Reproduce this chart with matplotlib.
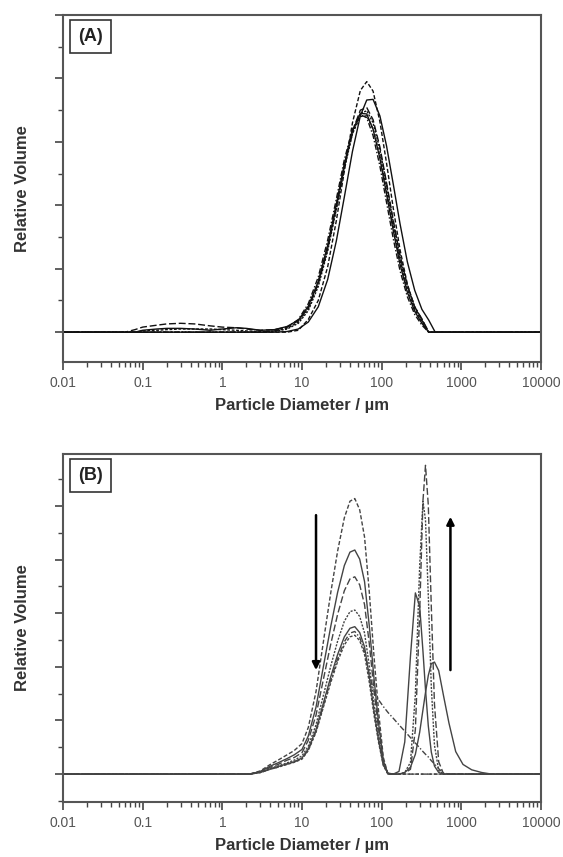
import numpy as np
import matplotlib
matplotlib.use('Agg')
import matplotlib.pyplot as plt
from matplotlib.ticker import FixedLocator, LogLocator, MultipleLocator, NullFormatter

plt.rcParams['font.family'] = ['Liberation Sans', 'DejaVu Sans']

# x ticks shared by both panels
x_ticks = [0.01, 0.1, 1, 10, 100, 1000, 10000]
x_tick_labels = ['0.01', '0.1', '1', '10', '100', '1000', '10000']

# ---- panel (A): particle diameter grid (um) and relative volume curves
xA = [0.01, 0.06, 0.08, 0.1, 0.15, 0.2, 0.3, 0.45, 0.7, 1.0, 1.5, 2.0, 3.0, 4.5, 6.5,
      9, 12, 16, 21, 27, 34, 43, 54, 65, 78, 95, 115, 140, 170, 210, 260, 320, 390, 470, 10000]

a1 = [0, 0, 0, 0, 0, 0, 0, 0, 0, 0, 0, 0, 0, 0, 0,
      0.03, 0.20, 0.50, 1.03, 1.76, 2.54, 3.30, 3.81, 3.95, 3.80, 3.32, 2.67, 1.95, 1.30, 0.76, 0.39, 0.19, 0, 0, 0]
a2 = [0, 0, 0, 0, 0, 0, 0, 0, 0, 0, 0, 0, 0, 0, 0.01,
      0.05, 0.16, 0.40, 0.83, 1.44, 2.13, 2.85, 3.41, 3.66, 3.67, 3.41, 2.94, 2.33, 1.71, 1.11, 0.66, 0.36, 0.19, 0, 0]
a3 = [0, 0, 0.04, 0.08, 0.11, 0.13, 0.14, 0.13, 0.10, 0.08, 0.07, 0.05, 0.03, 0.04, 0.08,
      0.18, 0.38, 0.76, 1.31, 1.96, 2.61, 3.17, 3.50, 3.54, 3.35, 2.92, 2.36, 1.76, 1.21, 0.74, 0.40, 0.21, 0, 0, 0]
a4 = [0, 0, 0, 0, 0, 0, 0, 0, 0, 0, 0, 0, 0, 0.01, 0.05,
      0.14, 0.34, 0.72, 1.28, 1.94, 2.57, 3.13, 3.45, 3.49, 3.30, 2.88, 2.33, 1.73, 1.19, 0.73, 0.40, 0.20, 0, 0, 0]
a5 = [0, 0, 0, 0.03, 0.05, 0.06, 0.06, 0.05, 0.03, 0.05, 0.07, 0.06, 0.03, 0.04, 0.09,
      0.19, 0.41, 0.80, 1.37, 2.02, 2.65, 3.17, 3.45, 3.44, 3.20, 2.74, 2.18, 1.60, 1.07, 0.63, 0.33, 0.14, 0, 0, 0]
a6 = [0, 0, 0, 0, 0, 0, 0, 0, 0, 0, 0, 0, 0, 0.02, 0.08,
      0.20, 0.45, 0.87, 1.45, 2.10, 2.72, 3.20, 3.43, 3.38, 3.10, 2.62, 2.05, 1.47, 0.97, 0.56, 0.28, 0.11, 0, 0, 0]
a7 = [0, 0, 0, 0.02, 0.03, 0.04, 0.05, 0.05, 0.05, 0.04, 0.03, 0.02, 0.01, 0.02, 0.06,
      0.16, 0.38, 0.78, 1.34, 1.99, 2.62, 3.13, 3.40, 3.41, 3.20, 2.78, 2.24, 1.66, 1.13, 0.68, 0.36, 0.17, 0, 0, 0]

# ---- panel (B)
xB = [0.01, 2.2, 3, 4, 5, 6.5, 8, 10, 12, 15, 19, 23, 28, 34, 40, 46, 53, 61, 70, 80, 92, 105,
      120, 140, 165, 195, 230, 265, 300, 330, 355, 385, 420, 460, 520, 600, 700, 850, 1050, 1350, 1800, 2400, 10000]

b1 = [0, 0, 0.06, 0.18, 0.26, 0.36, 0.44, 0.57, 0.87, 1.54, 2.57, 3.39, 4.16, 4.78, 5.09, 5.14, 4.93, 4.42, 3.39, 2.21, 1.13, 0.31,
      0, 0, 0, 0, 0, 0, 0, 0, 0, 0, 0, 0, 0, 0, 0, 0, 0, 0, 0, 0, 0]
b2 = [0, 0, 0.05, 0.15, 0.21, 0.29, 0.36, 0.46, 0.71, 1.25, 2.09, 2.76, 3.39, 3.89, 4.14, 4.18, 4.01, 3.59, 2.76, 1.80, 0.92, 0.25,
      0, 0, 0.05, 0.60, 2.20, 3.38, 3.13, 2.29, 1.58, 0.90, 0.41, 0.15, 0.03, 0, 0, 0, 0, 0, 0, 0, 0]
b3 = [0, 0, 0.04, 0.13, 0.18, 0.26, 0.31, 0.40, 0.63, 1.10, 1.84, 2.43, 2.98, 3.42, 3.64, 3.68, 3.53, 3.16, 2.43, 1.58, 0.81, 0.22,
      0, 0, 0, 0.02, 0.09, 0.83, 3.01, 5.10, 5.76, 5.02, 3.12, 1.31, 0.23, 0, 0, 0, 0, 0, 0, 0, 0]
b4 = [0, 0, 0.04, 0.11, 0.15, 0.21, 0.26, 0.34, 0.52, 0.92, 1.53, 2.02, 2.48, 2.85, 3.03, 3.06, 2.94, 2.63, 2.02, 1.32, 0.67, 0.18,
      0, 0, 0, 0.03, 0.22, 1.49, 3.88, 5.09, 4.74, 3.33, 1.63, 0.54, 0.07, 0, 0, 0, 0, 0, 0, 0, 0]
b5 = [0, 0, 0.03, 0.10, 0.14, 0.19, 0.23, 0.30, 0.47, 0.83, 1.38, 1.82, 2.23, 2.56, 2.72, 2.75, 2.64, 2.37, 1.82, 1.18, 0.61, 0.17,
      0.02, 0, 0, 0.03, 0.13, 0.37, 0.78, 1.20, 1.52, 1.84, 2.06, 2.09, 1.93, 1.45, 0.95, 0.42, 0.18, 0.08, 0.03, 0, 0]
b6 = [0, 0, 0.03, 0.09, 0.13, 0.19, 0.23, 0.29, 0.45, 0.80, 1.33, 1.76, 2.15, 2.47, 2.63, 2.66, 2.55, 2.29, 1.85, 1.55, 1.38, 1.26,
      1.15, 1.04, 0.92, 0.80, 0.68, 0.58, 0.49, 0.42, 0.37, 0.32, 0.25, 0.19, 0.10, 0.02, 0, 0, 0, 0, 0, 0, 0]
b7 = [0, 0, 0.03, 0.09, 0.13, 0.18, 0.22, 0.28, 0.44, 0.78, 1.30, 1.71, 2.10, 2.41, 2.56, 2.59, 2.49, 2.23, 1.71, 1.11, 0.57, 0.16,
      0, 0, 0, 0, 0, 0, 0, 0, 0, 0, 0, 0, 0, 0, 0, 0, 0, 0, 0, 0, 0]

# arrows in panel B: (x, y_start, y_end)
arrow_down = (15, 4.83, 1.94)
arrow_up = (730, 1.94, 4.80)

line_styles = [(0, (3, 1.5)), '-', (0, (5, 2)), (0, (1.5, 1)), '-', (0, (4, 1.5, 1, 1.5)), (0, (2, 1.2))]


def style_axes(ax, ylim, label):
    ax.set_xscale('log')
    ax.set_xlim(0.01, 10000)
    ax.set_ylim(*ylim)
    ax.xaxis.set_major_locator(FixedLocator(x_ticks))
    ax.set_xticklabels(x_tick_labels)
    ax.xaxis.set_minor_locator(LogLocator(base=10, subs=np.arange(2, 10), numticks=20))
    ax.xaxis.set_minor_formatter(NullFormatter())
    ax.yaxis.set_major_locator(MultipleLocator(1))
    ax.yaxis.set_minor_locator(MultipleLocator(0.5))
    ax.tick_params(axis='y', which='both', labelleft=False)
    ax.tick_params(which='both', direction='out', color='#444444')
    ax.tick_params(which='major', length=6, width=1.2)
    ax.tick_params(which='minor', length=3.5, width=1.0)
    ax.tick_params(axis='x', labelsize=10, labelcolor='#555555', pad=4)
    for s in ax.spines.values():
        s.set_linewidth(1.5)
        s.set_color('#555555')
    ax.set_ylabel('Relative Volume', fontsize=12, fontweight='bold', color='#333333')
    ax.yaxis.set_label_coords(-0.07, 0.5)
    ax.set_xlabel('Particle Diameter / µm', fontsize=12, fontweight='bold', color='#333333', labelpad=6)
    ax.text(0.031, 0.962, label, transform=ax.transAxes, ha='left', va='top',
            fontsize=13, fontweight='bold', color='#222222',
            bbox=dict(boxstyle='square,pad=0.45', fc='white', ec='#333333', lw=1.2))


fig = plt.figure(figsize=(5.63, 8.57), dpi=100)
axA = fig.add_axes([0.1119, 0.5776, 0.8490, 0.4049])
axB = fig.add_axes([0.1119, 0.0642, 0.8490, 0.4060])

for y, ls in zip([a1, a2, a3, a4, a5, a6, a7], line_styles):
    axA.plot(xA, y, color='#111111', lw=1.0, linestyle=ls)
style_axes(axA, (-0.47, 5.0), '(A)')

for y, ls in zip([b1, b2, b3, b4, b5, b6, b7], line_styles):
    axB.plot(xB, y, color='#444444', lw=1.0, linestyle=ls)
style_axes(axB, (-0.52, 5.97), '(B)')

for x, y0, y1 in [arrow_down, arrow_up]:
    axB.annotate('', xy=(x, y1), xytext=(x, y0),
                 arrowprops=dict(arrowstyle='-|>', lw=1.8, color='black',
                                 mutation_scale=11, shrinkA=0, shrinkB=0))

fig.savefig('out.png', dpi=100)
